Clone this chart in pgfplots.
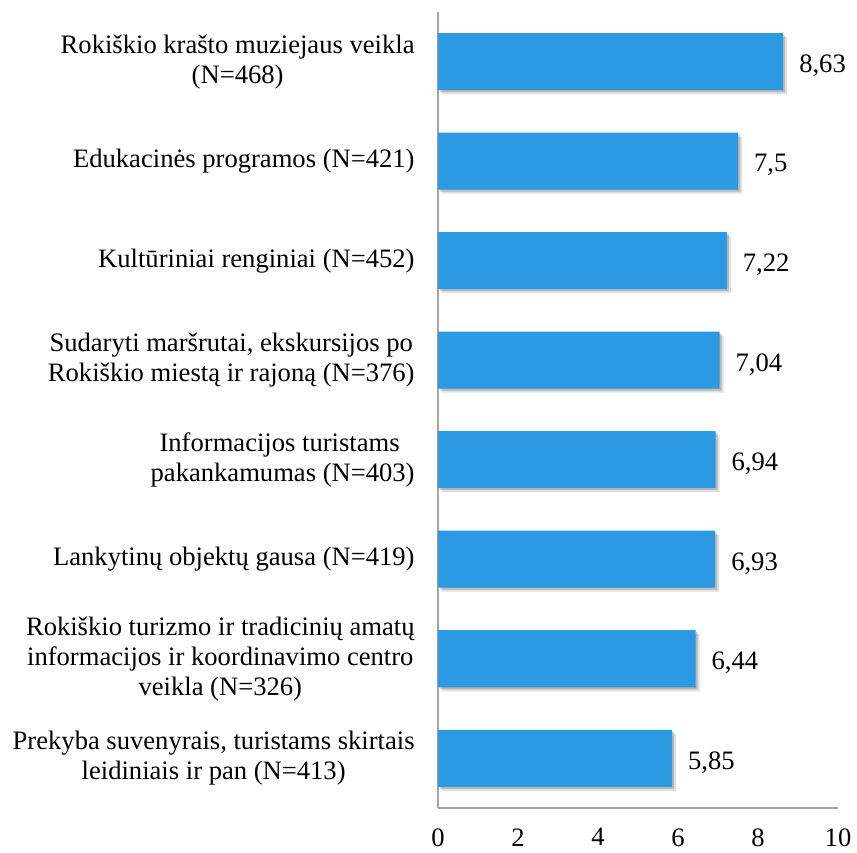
\documentclass[border=0pt]{standalone}
\usepackage{fontspec}
\setmainfont{Liberation Serif}
\usepackage{pgfplots}
\pgfplotsset{compat=1.18}
\definecolor{barblue}{RGB}{43,154,227}
\definecolor{axgray}{RGB}{165,165,165}
\pgfplotstableread{
val pos
5.85 0
6.44 1
6.93 2
6.94 3
7.04 4
7.22 5
7.5 6
8.63 7
}\datatable
\begin{document}
\begin{tikzpicture}
\useasboundingbox (0,0) rectangle (428.5pt,426pt);
\begin{axis}[
  at={(219pt,22pt)}, anchor=south west,
  scale only axis, width=200pt, height=398pt,
  xbar, bar width=28.5pt,
  xmin=0, xmax=10, ymin=-0.5, ymax=7.5,
  xtick={0,2,4,6,8,10},
  ytick={0,1,2,3,4,5,6,7},
  yticklabels={
    {Prekyba suvenyrais, turistams skirtais\\leidiniais ir pan (N=413)},
    {Rokiškio turizmo ir tradicinių amatų\\informacijos ir koordinavimo centro\\veikla (N=326)},
    {Lankytinų objektų gausa (N=419)},
    {Informacijos turistams\hspace*{3pt}\\pakankamumas (N=403)},
    {Sudaryti maršrutai, ekskursijos po\\Rokiškio miestą ir rajoną (N=376)},
    {Kultūriniai renginiai (N=452)},
    {Edukacinės programos (N=421)},
    {Rokiškio krašto muziejaus veikla\\(N=468)}
  },
  axis lines*=left,
  axis line style={axgray, line width=0.6pt},
  major tick length=0pt,
  tick label style={font=\fontsize{13.3}{15}\selectfont},
  yticklabel style={align=center, anchor=east, inner sep=0pt, xshift=-11.5pt},
  xticklabel style={anchor=north, inner sep=0pt, yshift=-10pt},
  /pgf/number format/assume math mode=true,
  /pgf/number format/use comma,
  clip=false,
]
\addplot[fill=black, fill opacity=0.12, draw=none, bar shift=0pt, xshift=2pt, yshift=-2pt] table[x=val, y=pos] {\datatable};
\addplot[fill=black, fill opacity=0.18, draw=none, bar shift=0pt, xshift=1pt, yshift=-1pt] table[x=val, y=pos] {\datatable};
\addplot[fill=barblue, draw=none, bar shift=0pt,
  nodes near coords,
  nodes near coords style={font=\fontsize{13.3}{15}\selectfont, anchor=west, xshift=4.5pt, yshift=-2pt, text=black}]
  table[x=val, y=pos] {\datatable};
\end{axis}
\end{tikzpicture}
\end{document}
